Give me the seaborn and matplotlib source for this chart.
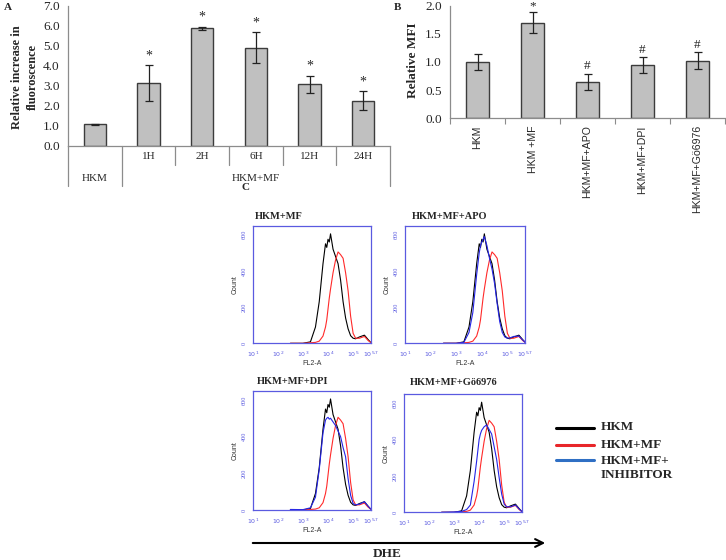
import numpy as np
import matplotlib
matplotlib.use('Agg')
import matplotlib.pyplot as plt
import seaborn as sns
from matplotlib.lines import Line2D
from matplotlib.patches import FancyArrowPatch
from matplotlib.ticker import FixedLocator

# ---- panel A: time course ----
a_groups = ['HKM', '1H', '2H', '6H', '12H', '24H']
a_values = [1.07, 3.12, 5.87, 4.90, 3.07, 2.25]
a_errors = [0.02, 0.90, 0.07, 0.77, 0.43, 0.46]
a_marks = ['', '*', '*', '*', '*', '*']
a_row1 = ['', '1H', '2H', '6H', '12H', '24H']

# ---- panel B: inhibitors ----
b_groups = ['HKM', 'HKM +MF', 'HKM+MF+APO', 'HKM+MF+DPI', 'HKM+MF+Gö6976']
b_values = [1.00, 1.70, 0.65, 0.94, 1.02]
b_errors = [0.15, 0.18, 0.14, 0.14, 0.15]
b_marks = ['', '*', '#', '#', '#']

# ---- panel C: DHE histograms (log10 FL2-A vs count) ----
fl2_exp = [2.5, 3.0, 3.3, 3.5, 3.65, 3.8, 3.9, 3.95, 4.0, 4.05, 4.1, 4.2, 4.3, 4.4,
           4.5, 4.6, 4.7, 4.8, 4.9, 5.0, 5.1, 5.25, 5.45, 5.6, 5.7]
count_hkm = [0, 0, 8, 90, 230, 440, 550, 530, 575, 560, 605, 520, 480, 440,
             350, 230, 140, 80, 42, 28, 25, 35, 45, 20, 5]
count_mf = [0, 0, 3, 5, 12, 40, 90, 130, 190, 250, 300, 390, 460, 505,
            490, 470, 390, 290, 150, 55, 28, 28, 38, 15, 5]
count_apo = [0, 0, 5, 60, 170, 380, 500, 540, 560, 575, 590, 540, 470, 410,
             330, 220, 120, 60, 35, 28, 30, 38, 40, 18, 5]
count_dpi = [3, 2, 12, 70, 220, 420, 490, 500, 505, 495, 500, 480, 460, 430,
             400, 340, 290, 170, 80, 35, 28, 32, 45, 20, 5]
count_go = [0, 2, 5, 15, 40, 170, 280, 340, 400, 430, 450, 470, 480, 455,
            430, 360, 290, 190, 100, 45, 30, 30, 40, 18, 5]

flow_panels = [
    ('HKM+MF', None, (252.7, 225.7, 370.7, 343.3), 2.5, 5),
    ('HKM+MF+APO', count_apo, (405.0, 225.7, 525.3, 343.3), 6.5, 5),
    ('HKM+MF+DPI', count_dpi, (252.7, 390.7, 370.7, 510.0), 4.5, 5),
    ('HKM+MF+Gö6976', count_go, (404.0, 394.0, 521.7, 512.3), 6.0, 7),
]

W, H = 726, 560
sns.set_style('white')
plt.rcParams['font.family'] = ['Liberation Serif', 'DejaVu Serif']
plt.rcParams['mathtext.fontset'] = 'dejavusans'

fig = plt.figure(figsize=(W / 100, H / 100), dpi=100)


def rect(x0, y0, x1, y1):
    return [x0 / W, 1 - y1 / H, (x1 - x0) / W, (y1 - y0) / H]


grey = '#8c8c8c'
bar_kw = dict(color='#c0c0c0', edgecolor='#3c3c3c', linewidth=1.0,
              saturation=1, errorbar=None)

# ---------------- panel A ----------------
axA = fig.add_axes(rect(68, 5.7, 390, 145.7))
sns.barplot(x=a_groups, y=a_values, width=0.42, ax=axA, **bar_kw)
axA.errorbar(range(len(a_values)), a_values, yerr=a_errors, fmt='none',
             ecolor='#222222', elinewidth=0.9, capsize=3, capthick=0.9)
for i, (v, e, m) in enumerate(zip(a_values, a_errors, a_marks)):
    if m:
        axA.text(i, v + e + 0.15, m, ha='center', va='bottom', fontsize=10)
axA.set_xlim(-0.5, 5.5)
axA.set_ylim(0, 7)
axA.set_yticks(np.arange(0, 7.5, 1.0))
axA.set_yticklabels([f'{t:.1f}' for t in np.arange(0, 7.5, 1.0)], fontsize=9.5)
axA.set_xticks([])
axA.set_xlabel('')
for s in ['top', 'right']:
    axA.spines[s].set_visible(False)
for s in ['left', 'bottom']:
    axA.spines[s].set_color(grey)
    axA.spines[s].set_linewidth(0.9)
axA.tick_params(axis='y', direction='out', length=4, width=0.8, color=grey, pad=2)
tA = axA.get_xaxis_transform()
for xb in [-0.5, 0.5, 5.5]:
    axA.add_line(Line2D([xb, xb], [0, -0.285], transform=tA, color=grey,
                        lw=0.9, clip_on=False))
for xb in [1.5, 2.5, 3.5, 4.5]:
    axA.add_line(Line2D([xb, xb], [0, -0.138], transform=tA, color=grey,
                        lw=0.9, clip_on=False))
for i, lab in enumerate(a_row1):
    if lab:
        axA.text(i, -0.078, lab, transform=tA, ha='center', va='center', fontsize=8)
axA.text(0, -0.233, 'HKM', transform=tA, ha='center', va='center', fontsize=8)
axA.text(3, -0.233, 'HKM+MF', transform=tA, ha='center', va='center', fontsize=8)
fig.text(25 / W, 1 - 77 / H, 'Relative increase in\nfluoroscence', rotation=90,
         ha='center', va='center', fontsize=9, fontweight='bold', linespacing=1.5)

# ---------------- panel B ----------------
axB = fig.add_axes(rect(450, 5.7, 725, 118.3))
sns.barplot(x=b_groups, y=b_values, width=0.41, ax=axB, **bar_kw)
axB.errorbar(range(len(b_values)), b_values, yerr=b_errors, fmt='none',
             ecolor='#222222', elinewidth=0.9, capsize=3, capthick=0.9)
for i, (v, e, m) in enumerate(zip(b_values, b_errors, b_marks)):
    if m:
        axB.text(i, v + e + (0.0 if m == '*' else 0.03), m, ha='center',
                 va='bottom', fontsize=9.5)
axB.set_xlim(-0.5, 4.5)
axB.set_ylim(0, 2)
axB.set_yticks([0, 0.5, 1.0, 1.5, 2.0])
axB.set_yticklabels(['0.0', '0.5', '1.0', '1.5', '2.0'], fontsize=9.5)
axB.set_xlabel('')
axB.set_xticks(range(5))
axB.set_xticklabels(b_groups, rotation=90, fontsize=7.6,
                    family=['Liberation Sans', 'DejaVu Sans'], va='top')
axB.xaxis.set_minor_locator(FixedLocator([-0.5, 0.5, 1.5, 2.5, 3.5, 4.5]))
axB.tick_params(axis='x', which='major', length=0, pad=5)
axB.tick_params(axis='x', which='minor', bottom=True, direction='out',
                length=4, width=0.8, color=grey)
axB.tick_params(axis='y', direction='out', length=4, width=0.8, color=grey, pad=2)
for s in ['top', 'right']:
    axB.spines[s].set_visible(False)
for s in ['left', 'bottom']:
    axB.spines[s].set_color(grey)
    axB.spines[s].set_linewidth(0.9)
fig.text(413 / W, 1 - 60 / H, 'Relative MFI', rotation=90, ha='center',
         va='center', fontsize=9.5, fontweight='bold')

# ---------------- panel C ----------------
frame_blue = '#5a5ae0'
fl2 = np.power(10.0, fl2_exp)
major = [10, 100, 1e3, 1e4, 1e5, 10 ** 5.7]
major_lab = [r'$10^1$', r'$10^2$', r'$10^3$', r'$10^4$', r'$10^5$', r'$10^{5.7}$']
minor = [k * 10 ** d for d in range(1, 6) for k in range(2, 10) if k * 10 ** d < 10 ** 5.7]
for title, blue, box, tx, ty in flow_panels:
    ax = fig.add_axes(rect(*box))
    sns.lineplot(x=fl2, y=count_hkm, ax=ax, color='black', lw=0.8)
    sns.lineplot(x=fl2, y=count_mf, ax=ax, color='#ff2a2a', lw=0.8)
    if blue is not None:
        sns.lineplot(x=fl2, y=blue, ax=ax, color='#2424e6', lw=0.8)
    ax.set_xscale('log')
    ax.set_xlim(10, 10 ** 5.7)
    ax.set_ylim(0, 650)
    ax.set_xticks(major)
    ax.set_xticklabels(major_lab, fontsize=4.5, color=frame_blue)
    ax.xaxis.set_minor_locator(FixedLocator(minor))
    ax.set_yticks([0, 200, 400, 600])
    ax.set_yticklabels(['0', '200', '400', '600'], fontsize=4.5, color=frame_blue,
                       rotation=90, va='center')
    ax.tick_params(axis='both', which='major', direction='out', length=3,
                   width=0.8, color=frame_blue, pad=1.5)
    ax.tick_params(axis='x', which='minor', direction='out', length=2,
                   width=0.6, color=frame_blue)
    for s in ax.spines.values():
        s.set_color(frame_blue)
        s.set_linewidth(0.9)
    ax.set_xlabel('FL2-A', fontsize=5, family=['Liberation Sans', 'DejaVu Sans'],
                  labelpad=1, color='#333333')
    ax.set_ylabel('Count', fontsize=5, family=['Liberation Sans', 'DejaVu Sans'],
                  labelpad=2, color='#333333')
    ax.text(tx / (box[2] - box[0]), 1 + ty / (box[3] - box[1]), title,
            transform=ax.transAxes, ha='left', va='bottom', fontsize=7.5,
            fontweight='bold')

# legend
leg_items = [('HKM', 'black', 428.3, 426.7),
             ('HKM+MF', '#e8262a', 445.0, 445.0),
             ('HKM+MF+\nINHIBITOR', '#2f6fc4', 460.0, 468.0)]
for lab, col, ly, tyy in leg_items:
    fig.add_artist(Line2D([556 / W, 594 / W], [1 - ly / H, 1 - ly / H],
                          transform=fig.transFigure, color=col, lw=2.2))
    fig.text(601 / W, 1 - tyy / H, lab, ha='left', va='center', fontsize=9.5,
             fontweight='bold', linespacing=1.3)

# arrow + DHE
fig.add_artist(FancyArrowPatch((250 / W, 1 - 543 / H), (548 / W, 1 - 543 / H),
                               transform=fig.transFigure, arrowstyle='->',
                               mutation_scale=14, lw=1.5, color='black'))
fig.text(387 / W, 1 - 554 / H, 'DHE', ha='center', va='center', fontsize=9.5,
         fontweight='bold')

# panel letters
fig.text(8 / W, 1 - 7 / H, 'A', ha='center', va='center', fontsize=8, fontweight='bold')
fig.text(397 / W, 1 - 7 / H, 'B', ha='center', va='center', fontsize=8, fontweight='bold')
fig.text(246 / W, 1 - 188 / H, 'C', ha='center', va='center', fontsize=8, fontweight='bold')

fig.savefig('out.png', dpi=100)
